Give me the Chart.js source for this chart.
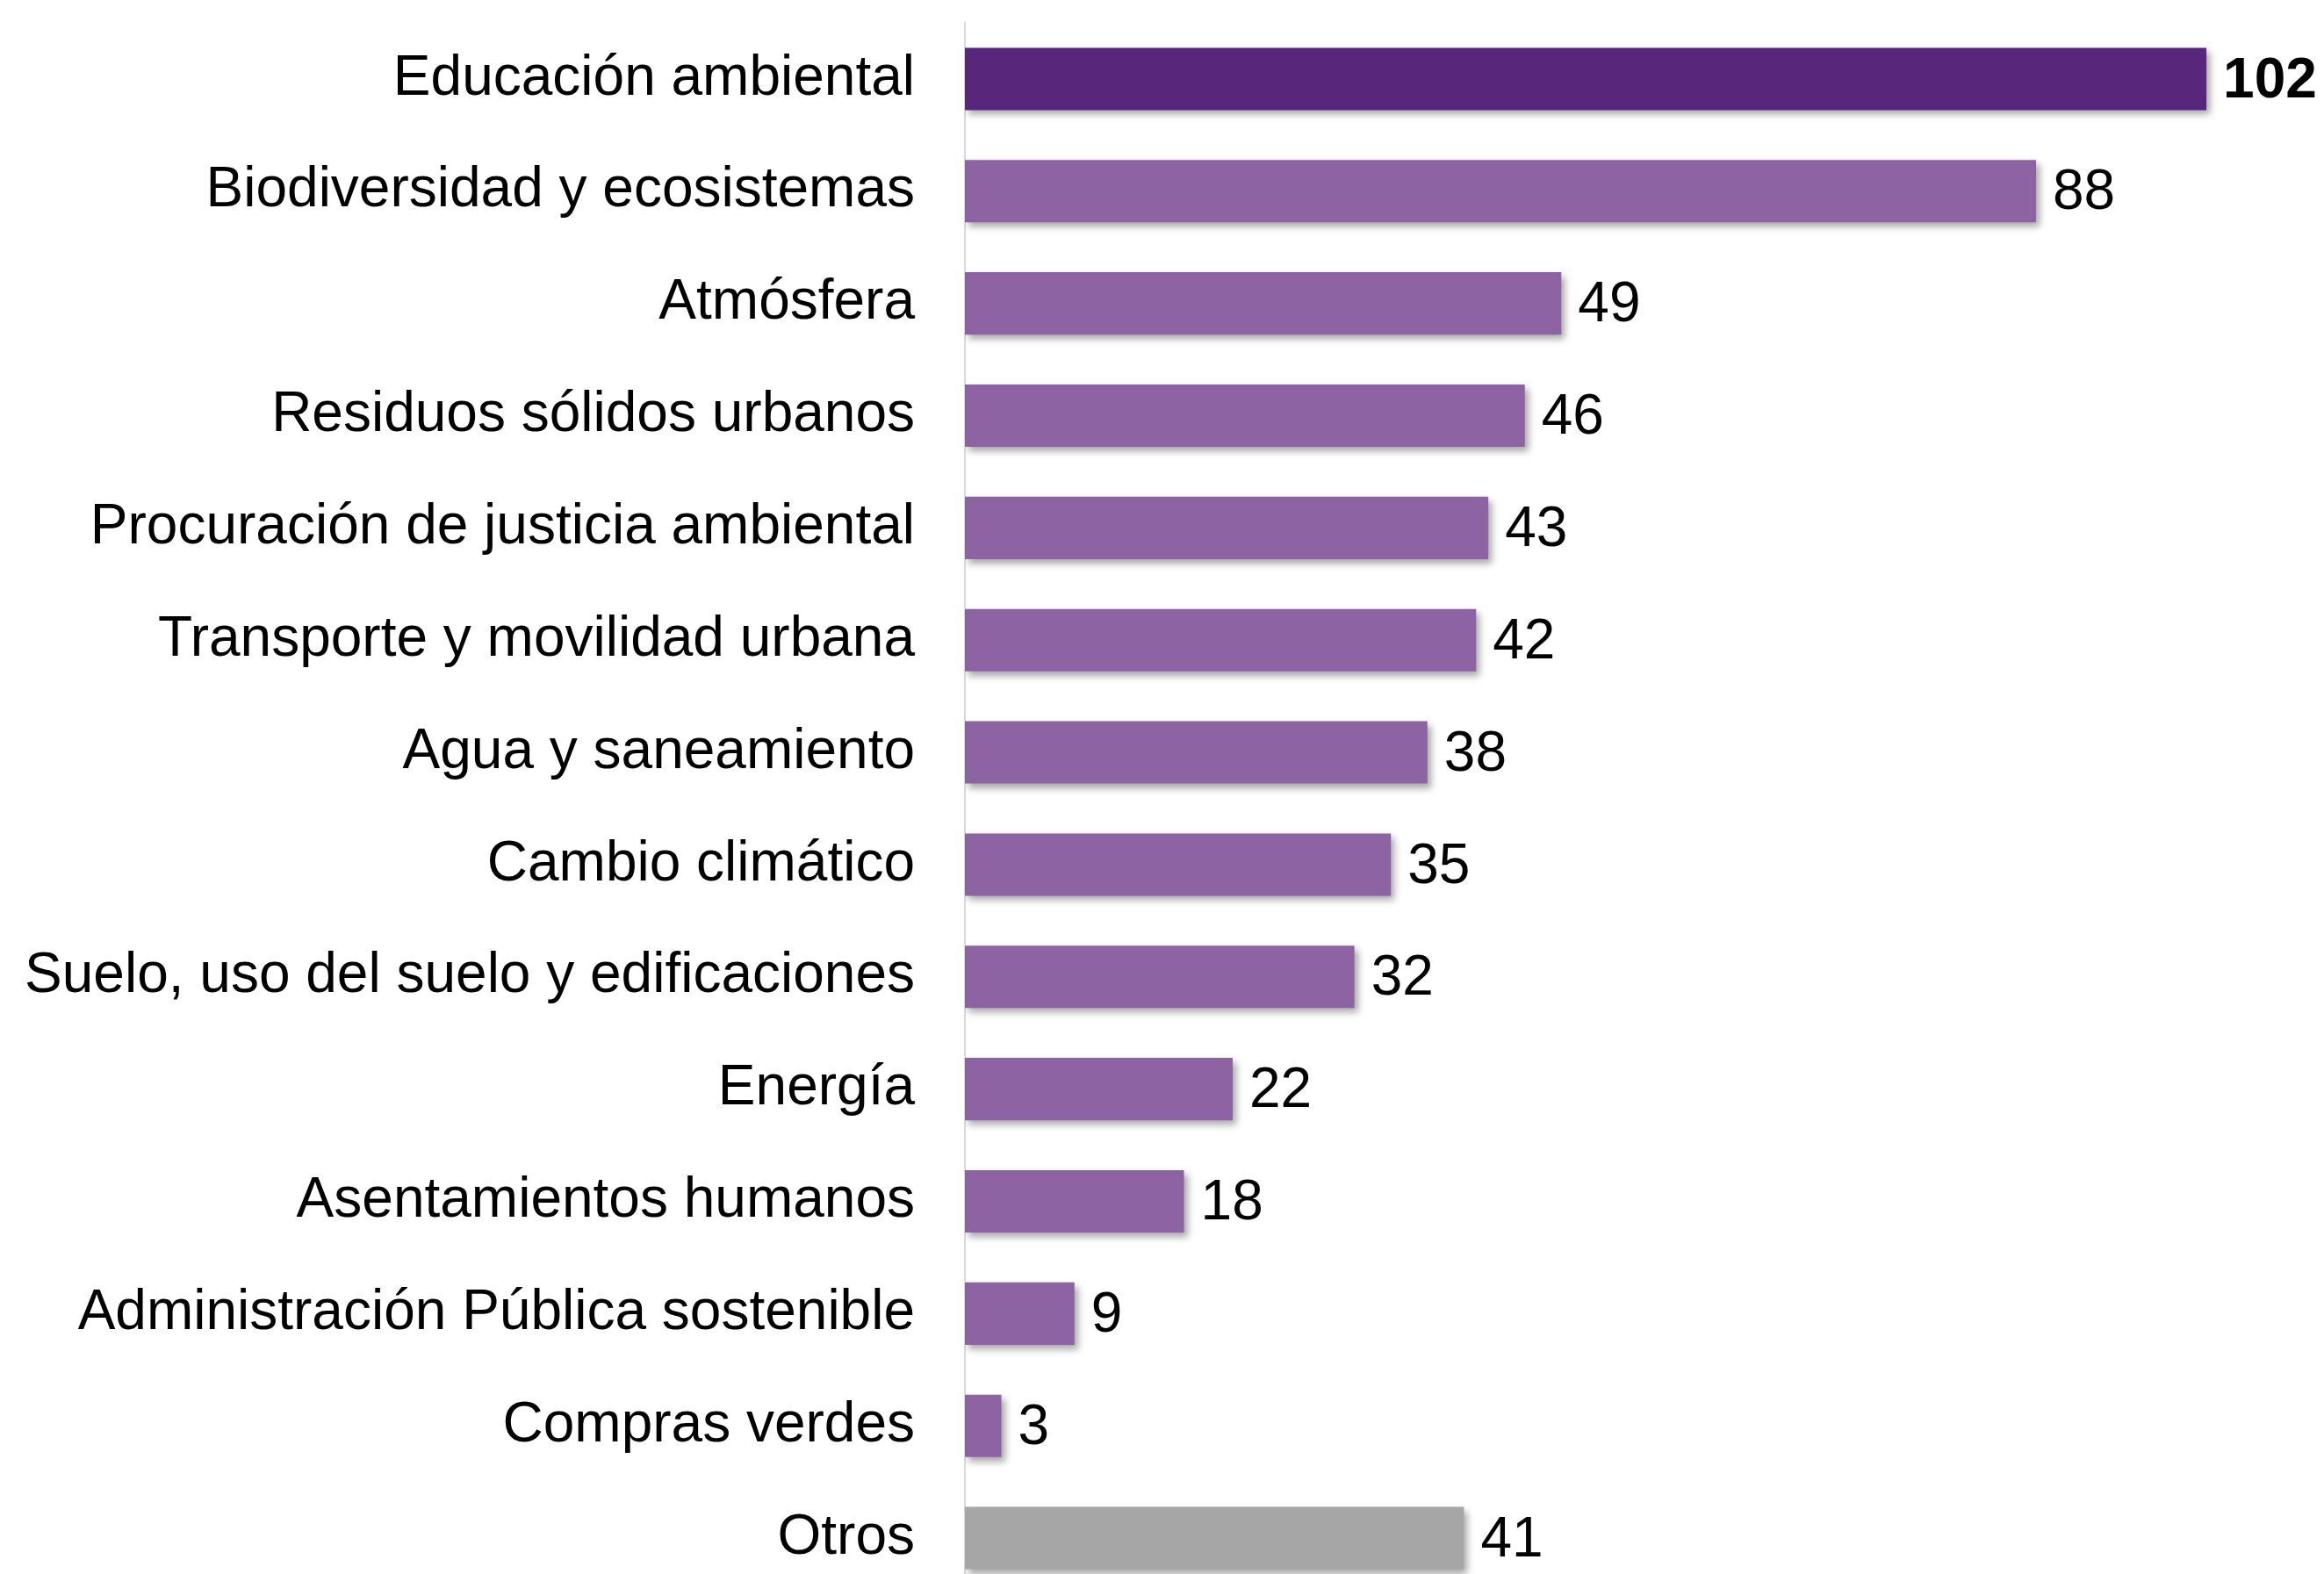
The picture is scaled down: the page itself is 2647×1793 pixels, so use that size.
<!DOCTYPE html>
<html lang="es">
<head>
<meta charset="utf-8">
<title>Temas</title>
<script src="https://cdn.jsdelivr.net/npm/chart.js@4/dist/chart.umd.min.js"></script>
<style>
    html, body { margin: 0; padding: 0; background: #fff; overflow: hidden; }
    #chart { display: block; }
</style>
</head>
<body>
<canvas id="chart" width="2647" height="1816"></canvas>
<script>
// datos
const categorias = [
    'Educación ambiental',
    'Biodiversidad y ecosistemas',
    'Atmósfera',
    'Residuos sólidos urbanos',
    'Procuración de justicia ambiental',
    'Transporte y movilidad urbana',
    'Agua y saneamiento',
    'Cambio climático',
    'Suelo, uso del suelo y edificaciones',
    'Energía',
    'Asentamientos humanos',
    'Administración Pública sostenible',
    'Compras verdes',
    'Otros'
];
const valores = [102, 88, 49, 46, 43, 42, 38, 35, 32, 22, 18, 9, 3, 41];

// colores por barra
const colorPrincipal = '#58267A';
const colorNormal = '#8E63A3';
const colorOtros = '#A6A6A6';
const colores = categorias.map((c, i) => {
    if (i === 0) return colorPrincipal;
    if (c === 'Otros') return colorOtros;
    return colorNormal;
});

const fuente = '"Liberation Sans", Arial, sans-serif';

// sombra de las barras
const sombraBarras = {
    id: 'sombraBarras',
    beforeDatasetsDraw(chart) {
        const ctx = chart.ctx;
        ctx.save();
        ctx.shadowColor = 'rgba(0, 0, 0, 0.35)';
        ctx.shadowBlur = 8;
        ctx.shadowOffsetX = 4;
        ctx.shadowOffsetY = 5;
    },
    afterDatasetsDraw(chart) {
        chart.ctx.restore();
    }
};

// etiquetas de valor
const etiquetasValor = {
    id: 'etiquetasValor',
    afterDatasetsDraw(chart) {
        const ctx = chart.ctx;
        const meta = chart.getDatasetMeta(0);
        ctx.save();
        ctx.shadowColor = 'transparent';
        ctx.fillStyle = '#000';
        ctx.textAlign = 'left';
        ctx.textBaseline = 'middle';
        meta.data.forEach((bar, i) => {
            ctx.font = (i === 0 ? 'bold ' : '') + '64px ' + fuente;
            ctx.fillText(String(valores[i]), bar.x + 19, bar.y + 3);
        });
        ctx.restore();
    }
};

const ctx = document.getElementById('chart').getContext('2d');
new Chart(ctx, {
    type: 'bar',
    data: {
        labels: categorias,
        datasets: [{
            data: valores,
            backgroundColor: colores,
            borderWidth: 0,
            categoryPercentage: 1,
            barPercentage: 0.556
        }]
    },
    options: {
        indexAxis: 'y',
        responsive: false,
        devicePixelRatio: 1,
        animation: false,
        layout: {
            padding: { top: 26, right: 23, bottom: 0, left: 0 }
        },
        scales: {
            x: {
                display: false,
                min: 0,
                max: 110
            },
            y: {
                grid: { display: false, drawTicks: false },
                border: { display: true, color: '#D9D9D9', width: 2 },
                ticks: {
                    color: '#000',
                    padding: 57,
                    font: { family: fuente, size: 64 }
                },
                afterFit(scale) {
                    scale.width = 1099;
                    scale.paddingTop = 0;
                    scale.paddingBottom = 0;
                }
            }
        },
        plugins: {
            legend: { display: false },
            tooltip: { enabled: false }
        }
    },
    plugins: [sombraBarras, etiquetasValor]
});
</script>
</body>
</html>
